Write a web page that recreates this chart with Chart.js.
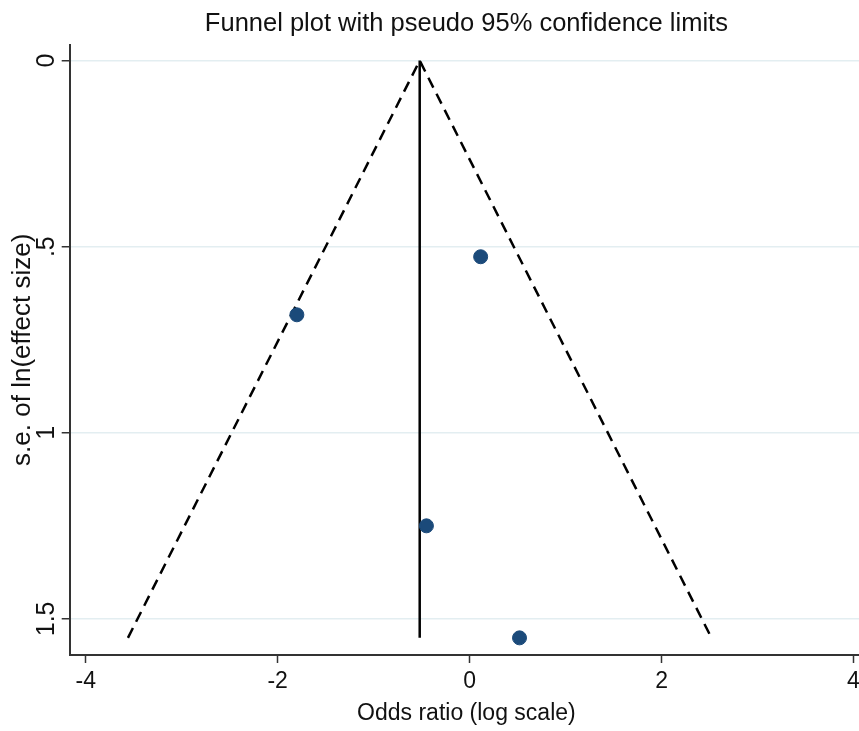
<!DOCTYPE html>
<html>
<head>
<meta charset="utf-8">
<script src="https://cdn.jsdelivr.net/npm/chart.js@4"></script>
<style>
  html, body { margin: 0; padding: 0; background: #fff; overflow: hidden; }
  #wrap { width: 872px; height: 731px; }
</style>
</head>
<body>
<div id="wrap"><canvas id="funnelChart"></canvas></div>
<script>
// study estimates (log odds ratio, standard error)
const studyLogOR = [0.115, -1.80, -0.45, 0.52];
const studySE = [0.527, 0.683, 1.25, 1.551];

// pooled estimate and pseudo 95% limits
const pooledLogOR = -0.52;
const maxSE = 1.551;
const funnelX = [-3.56, -0.52, 2.52];
const funnelY = [1.551, 0, 1.551];

const xTicks = [-4, -2, 0, 2, 4];
const yTicks = [0, 0.5, 1, 1.5];

const fontFamily = '"Liberation Sans", Arial, sans-serif';

const ctx = document.getElementById('funnelChart').getContext('2d');
new Chart(ctx, {
    type: 'scatter',
    data: {
        datasets: [
            {
                label: 'Studies',
                data: studyLogOR.map((x, i) => ({x: x, y: studySE[i]})),
                backgroundColor: '#1b4a7a',
                borderColor: '#1b4a7a',
                pointRadius: 7,
                pointHoverRadius: 7,
                order: 0
            },
            {
                label: 'Pseudo 95% limits',
                data: funnelX.map((x, i) => ({x: x, y: funnelY[i]})),
                showLine: true,
                borderColor: '#000',
                borderWidth: 2.5,
                borderDash: [11, 7],
                pointRadius: 0,
                fill: false,
                order: 1
            },
            {
                label: 'Pooled',
                data: [{x: pooledLogOR, y: 0}, {x: pooledLogOR, y: maxSE}],
                showLine: true,
                borderColor: '#000',
                borderWidth: 2.5,
                pointRadius: 0,
                fill: false,
                order: 1
            }
        ]
    },
    options: {
        responsive: true,
        maintainAspectRatio: false,
        animation: false,
        layout: { padding: { top: 0, right: 0, bottom: 4, left: 7 } },
        plugins: {
            legend: { display: false },
            tooltip: { enabled: false },
            title: {
                display: true,
                fullSize: false,
                text: 'Funnel plot with pseudo 95% confidence limits',
                color: '#111',
                font: { family: fontFamily, size: 25.5, weight: 'normal' },
                padding: { top: 9, bottom: 5 }
            }
        },
        scales: {
            x: {
                type: 'linear',
                min: -4.167,
                max: 4.1,
                afterBuildTicks: s => { s.ticks = xTicks.map(v => ({value: v})); },
                grid: { drawOnChartArea: false, drawTicks: true, tickLength: 8, tickColor: '#333', tickWidth: 1.5 },
                border: { display: true, color: '#333', width: 2 },
                ticks: { color: '#111', font: { family: fontFamily, size: 23, lineHeight: 0.54 }, padding: 12, maxRotation: 0 },
                title: {
                    display: true,
                    text: 'Odds ratio (log scale)',
                    color: '#111',
                    font: { family: fontFamily, size: 23 },
                    padding: { top: 0, bottom: 0 }
                }
            },
            y: {
                type: 'linear',
                reverse: true,
                min: -0.043,
                max: 1.597,
                afterBuildTicks: s => { s.ticks = yTicks.map(v => ({value: v})); },
                grid: { color: '#e3eef1', lineWidth: 1.5, drawTicks: true, tickLength: 8, tickColor: '#333', tickWidth: 1.5 },
                border: { display: true, color: '#333', width: 2 },
                ticks: {
                    color: '#111',
                    font: { family: fontFamily, size: 25, lineHeight: 1.18 },
                    minRotation: 90,
                    maxRotation: 90,
                    crossAlign: 'center',
                    padding: -3,
                    callback: v => String(v).replace(/^0\./, '.')
                },
                title: {
                    display: true,
                    text: 's.e. of ln(effect size)',
                    color: '#111',
                    font: { family: fontFamily, size: 26 },
                    padding: { top: 0, bottom: 0 }
                }
            }
        }
    }
});
</script>
</body>
</html>
